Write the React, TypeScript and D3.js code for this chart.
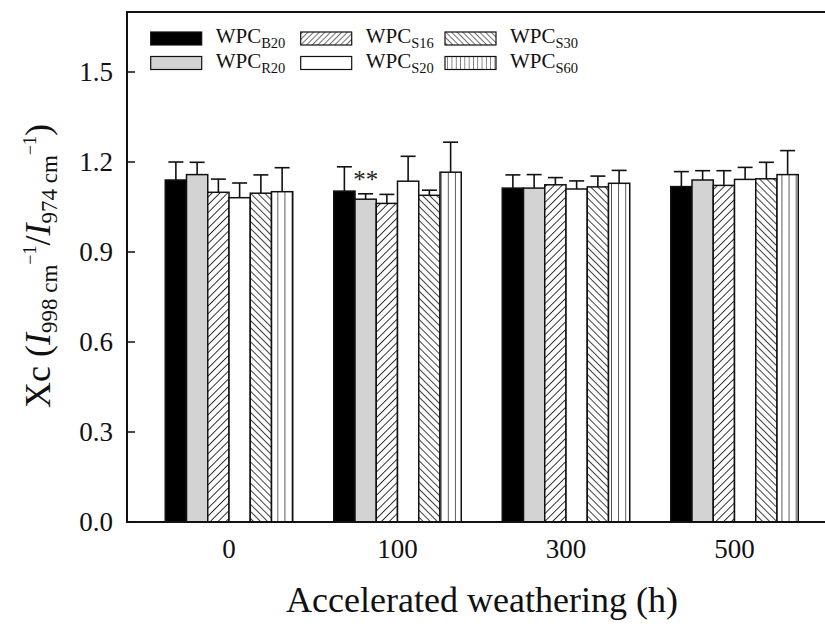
import React from 'react';
import * as d3 from 'd3';

const groups = ['0', '100', '300', '500'];
const seriesKeys = ['B20', 'R20', 'S16', 'S20', 'S30', 'S60'];

const B20 = [1.14, 1.103, 1.113, 1.118];
const R20 = [1.158, 1.076, 1.113, 1.14];
const S16 = [1.099, 1.062, 1.124, 1.122];
const S20 = [1.081, 1.136, 1.11, 1.142];
const S30 = [1.096, 1.089, 1.117, 1.144];
const S60 = [1.101, 1.166, 1.129, 1.158];

const B20err = [0.06, 0.081, 0.044, 0.05];
const R20err = [0.041, 0.018, 0.045, 0.031];
const S16err = [0.044, 0.03, 0.024, 0.049];
const S20err = [0.049, 0.083, 0.027, 0.04];
const S30err = [0.061, 0.017, 0.036, 0.055];
const S60err = [0.08, 0.1, 0.043, 0.08];

const yTicks = [0, 0.3, 0.6, 0.9, 1.2, 1.5];

const means = [B20, R20, S16, S20, S30, S60];
const errs = [B20err, R20err, S16err, S20err, S30err, S60err];

const fills = ['#000000', '#d3d3d3', 'url(#p16)', '#ffffff', 'url(#p30)', 'url(#p60)'];
const legendFills = ['#000000', '#d3d3d3', 'url(#lp16)', '#ffffff', 'url(#lp30)', 'url(#lp60)'];

const W = 825;
const H = 626;
const left = 127;
const top = 12;
const bottom = 522;
const right = 830;

export default function App() {
  const y = d3.scaleLinear().domain([0, 1.7]).range([bottom, top]);
  const step = 168.5;
  const c0 = 229;
  const x = d3.scaleBand<string>().domain(groups).range([c0 - step / 2, c0 - step / 2 + step * groups.length]).padding(0);
  const inner = d3.scaleBand<string>().domain(seriesKeys).range([-63.75, 63.75]).padding(0);
  const bw = inner.bandwidth();
  const font = '"Liberation Serif", "Times New Roman", serif';

  const legendCols = [150.7, 300.7, 445];
  const legendRows = [38.5, 63];
  const legendOrder = [0, 1, 2, 3, 4, 5];

  return (
    <svg width={W} height={H} style={{ position: 'absolute', left: 0, top: 0, background: '#fff' }} fontFamily={font}>
      <defs>
        <pattern id="p16" patternUnits="userSpaceOnUse" width="5.5" height="5.5" patternTransform="rotate(45)">
          <rect width="5.5" height="5.5" fill="#fff" />
          <line x1="0" y1="0" x2="0" y2="5.5" stroke="#111" strokeWidth="1.7" />
        </pattern>
        <pattern id="p30" patternUnits="userSpaceOnUse" width="5" height="5" patternTransform="rotate(-45)">
          <rect width="5" height="5" fill="#fff" />
          <line x1="0" y1="0" x2="0" y2="5" stroke="#111" strokeWidth="1.6" />
        </pattern>
        <pattern id="p60" patternUnits="userSpaceOnUse" width="7.1" height="10" x="0.5">
          <rect width="7.1" height="10" fill="#fff" />
          <line x1="0" y1="0" x2="0" y2="10" stroke="#222" strokeWidth="1.5" />
        </pattern>
        <pattern id="lp16" patternUnits="userSpaceOnUse" width="4" height="4" patternTransform="rotate(45)">
          <rect width="4" height="4" fill="#fff" />
          <line x1="0" y1="0" x2="0" y2="4" stroke="#111" strokeWidth="1.2" />
        </pattern>
        <pattern id="lp30" patternUnits="userSpaceOnUse" width="4" height="4" patternTransform="rotate(-45)">
          <rect width="4" height="4" fill="#fff" />
          <line x1="0" y1="0" x2="0" y2="4" stroke="#111" strokeWidth="1.2" />
        </pattern>
        <pattern id="lp60" patternUnits="userSpaceOnUse" width="4.3" height="10">
          <rect width="4.3" height="10" fill="#fff" />
          <line x1="0" y1="0" x2="0" y2="10" stroke="#222" strokeWidth="1.1" />
        </pattern>
      </defs>

      {groups.map((g, gi) => (
        <g key={g}>
          {seriesKeys.map((s, si) => {
            const cx = (x(g) as number) + x.bandwidth() / 2;
            const bx = cx + (inner(s) as number);
            const v = means[si][gi];
            const e = errs[si][gi];
            const midX = bx + bw / 2;
            return (
              <g key={s}>
                <line x1={midX} x2={midX} y1={y(v)} y2={y(v + e)} stroke="#111" strokeWidth={1.6} />
                <line x1={midX - 7.5} x2={midX + 7.5} y1={y(v + e)} y2={y(v + e)} stroke="#111" strokeWidth={1.6} />
                <rect x={bx} y={y(v)} width={bw} height={y(0) - y(v)} fill={fills[si]} stroke="#111" strokeWidth={1.5} />
              </g>
            );
          })}
        </g>
      ))}

      {(() => {
        const gi = 1;
        const si = 1;
        const cx = (x(groups[gi]) as number) + x.bandwidth() / 2 + (inner(seriesKeys[si]) as number) + bw / 2;
        return (
          <text x={cx} y={y(R20[gi] + R20err[gi]) - 6} fontSize={25} textAnchor="middle" fill="#222">**</text>
        );
      })()}

      <path d={`M${right},${top} H${left} V${bottom} H${right}`} fill="none" stroke="#111" strokeWidth={2} />

      {yTicks.map((t) => (
        <g key={t}>
          <line x1={left} x2={left + 8} y1={y(t)} y2={y(t)} stroke="#111" strokeWidth={1.5} />
          <text x={left - 14} y={y(t)} dy="0.35em" fontSize={27} textAnchor="end" fill="#111">{t.toFixed(1)}</text>
        </g>
      ))}

      {groups.map((g) => (
        <text key={g} x={(x(g) as number) + x.bandwidth() / 2} y={549} dy="0.35em" fontSize={27} textAnchor="middle" fill="#111">{g}</text>
      ))}

      <text x={482} y={612} fontSize={36} textAnchor="middle" fill="#111">Accelerated weathering (h)</text>

      <text transform="translate(50,266) rotate(-90)" fontSize={36} textAnchor="middle" fill="#111">
        <tspan>Xc (</tspan>
        <tspan fontStyle="italic">I</tspan>
        <tspan fontSize={23} dy={7}>998 cm</tspan>
        <tspan fontSize={18} dy={-21}>−1</tspan>
        <tspan dy={14}>/</tspan>
        <tspan fontStyle="italic">I</tspan>
        <tspan fontSize={23} dy={7}>974 cm</tspan>
        <tspan fontSize={18} dy={-21}>−1</tspan>
        <tspan dy={14}>)</tspan>
      </text>

      {legendOrder.map((si) => {
        const col = Math.floor(si / 2);
        const row = si % 2;
        const lx = legendCols[col];
        const ly = legendRows[row];
        return (
          <g key={si}>
            <rect x={lx} y={ly - 6.5} width={51} height={13} fill={legendFills[si]} stroke="#111" strokeWidth={1.2} />
            <text x={lx + 65} y={ly + 4.5} fontSize={21} fill="#111">
              WPC<tspan fontSize={14.5} dy={5}>{seriesKeys[si]}</tspan>
            </text>
          </g>
        );
      })}
    </svg>
  );
}
